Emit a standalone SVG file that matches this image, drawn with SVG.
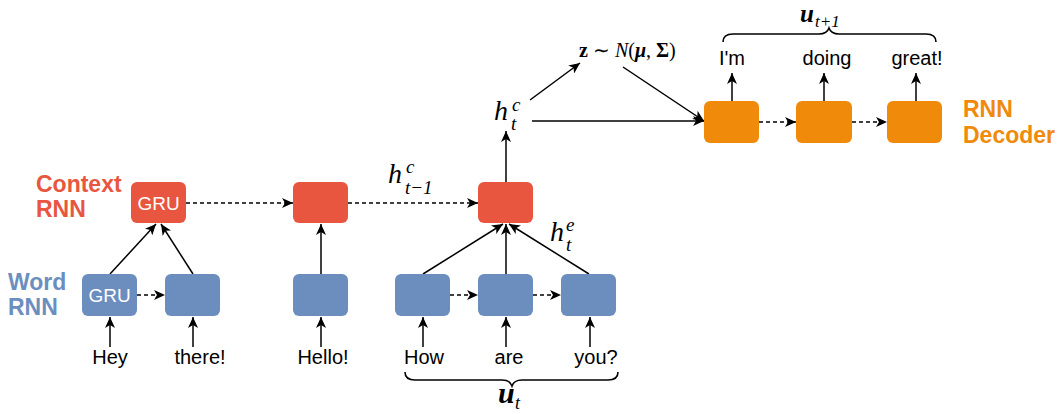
<svg xmlns="http://www.w3.org/2000/svg" width="1063" height="414" viewBox="0 0 1063 414">
<style>
.red{fill:#E8563F}
.blue{fill:#6C8EBF}
.org{fill:#F08A0A}
.word{font-family:"Liberation Sans",Arial,sans-serif;font-size:20px;fill:#000;text-anchor:middle}
.gru{font-family:"Liberation Sans",Arial,sans-serif;font-size:19px;fill:#fff;text-anchor:middle}
.lbl{font-family:"Liberation Sans",Arial,sans-serif;font-size:23px;font-weight:bold}
.m{font-family:"Liberation Serif","Times New Roman",serif;font-style:italic;fill:#000}
.ln{stroke:#000;stroke-width:1.5;fill:none;marker-end:url(#ah)}
.dl{stroke:#000;stroke-width:1.5;fill:none;stroke-dasharray:4 3;marker-end:url(#ah)}
.br{stroke:#000;stroke-width:1.6;fill:none}
</style>
<defs>
<marker id="ah" markerUnits="userSpaceOnUse" markerWidth="12" markerHeight="10" refX="11" refY="5" orient="auto" viewBox="0 0 12 10">
<path d="M0,0 L11,5 L0,10 L3,5 z" fill="#000"/>
</marker>
</defs>

<!-- side labels -->
<g id="label-context"><text class="lbl" x="36" y="192" fill="#E8563F">Context</text><text class="lbl" x="36" y="217" fill="#E8563F">RNN</text></g>
<g id="label-word"><text class="lbl" x="8" y="290" fill="#6C8EBF">Word</text><text class="lbl" x="8" y="315" fill="#6C8EBF">RNN</text></g>
<g id="label-decoder"><text class="lbl" x="963" y="117" fill="#F08A0A">RNN</text><text class="lbl" x="963" y="143" fill="#F08A0A">Decoder</text></g>

<!-- connectors -->
<g id="connectors">
<line class="ln" x1="321" y1="347" x2="321" y2="317"/>
<line class="ln" x1="110" y1="347" x2="110" y2="317"/>
<line class="ln" x1="193" y1="347" x2="193" y2="317"/>
<line class="ln" x1="423" y1="347" x2="423" y2="317"/>
<line class="ln" x1="506" y1="347" x2="506" y2="317"/>
<line class="ln" x1="590" y1="347" x2="590" y2="317"/>
<line class="ln" x1="110" y1="274" x2="156" y2="224"/>
<line class="ln" x1="193" y1="274" x2="161" y2="224"/>
<line class="dl" x1="137" y1="295" x2="165" y2="295"/>
<line class="dl" x1="186" y1="203" x2="293" y2="203"/>
<line class="ln" x1="321" y1="274" x2="321" y2="224"/>
<line class="dl" x1="348" y1="203" x2="478" y2="203"/>
<line class="ln" x1="423" y1="274" x2="503" y2="224"/>
<line class="ln" x1="506" y1="274" x2="506" y2="224"/>
<line class="ln" x1="589" y1="274" x2="509" y2="224"/>
<line class="dl" x1="450" y1="295" x2="478" y2="295"/>
<line class="dl" x1="533" y1="295" x2="561" y2="295"/>
<line class="ln" x1="506" y1="182" x2="506" y2="131"/>
<line class="ln" x1="530" y1="100" x2="580" y2="63"/>
<line class="ln" x1="532" y1="121" x2="704" y2="121"/>
<line class="ln" x1="623" y1="67" x2="704" y2="121"/>
<line class="dl" x1="759" y1="122" x2="796" y2="122"/>
<line class="dl" x1="852" y1="122" x2="887" y2="122"/>
<line class="ln" x1="732" y1="101" x2="732" y2="73"/>
<line class="ln" x1="824" y1="101" x2="824" y2="73"/>
<line class="ln" x1="916" y1="101" x2="916" y2="73"/>
<!-- braces -->
<path class="br" d="M405,372 Q405,380 415,380 L502,380 Q510,380 512,386 Q514,380 522,380 L608,380 Q618,380 618,372"/>
<path class="br" d="M723,42 Q723,34 733,34 L819,34 Q827,34 829,28 Q831,34 839,34 L926,34 Q936,34 936,42"/>
</g>

<!-- word RNN nodes -->
<g id="w-hey"><rect class="blue" x="82" y="274" width="55" height="42" rx="6"/><text class="gru" x="109.5" y="302">GRU</text></g>
<g id="w-there"><rect class="blue" x="165" y="274" width="55" height="42" rx="6"/></g>
<g id="w-hello"><rect class="blue" x="293" y="274" width="55" height="42" rx="6"/></g>
<g id="w-how"><rect class="blue" x="395" y="274" width="55" height="42" rx="6"/></g>
<g id="w-are"><rect class="blue" x="478" y="274" width="55" height="42" rx="6"/></g>
<g id="w-you"><rect class="blue" x="561" y="274" width="55" height="42" rx="6"/></g>

<!-- context RNN nodes -->
<g id="c1"><rect class="red" x="131" y="182" width="55" height="41" rx="6"/><text class="gru" x="158.5" y="210">GRU</text></g>
<g id="c2"><rect class="red" x="293" y="182" width="55" height="41" rx="6"/></g>
<g id="c3"><rect class="red" x="478" y="182" width="55" height="41" rx="6"/></g>

<!-- decoder nodes -->
<g id="d1"><rect class="org" x="704" y="101" width="55" height="42" rx="6"/></g>
<g id="d2"><rect class="org" x="796" y="101" width="56" height="42" rx="6"/></g>
<g id="d3"><rect class="org" x="887" y="101" width="55" height="42" rx="6"/></g>

<!-- words -->
<g id="words">
<text class="word" x="110" y="364">Hey</text>
<text class="word" x="200" y="364">there!</text>
<text class="word" x="323" y="364">Hello!</text>
<text class="word" x="424" y="364">How</text>
<text class="word" x="509" y="364">are</text>
<text class="word" x="596" y="364">you?</text>
<text class="word" x="732" y="65">I'm</text>
<text class="word" x="827" y="65">doing</text>
<text class="word" x="917" y="65">great!</text>
</g>

<!-- math labels -->
<g id="math">
<text class="m" x="388" y="183" font-size="28">h</text><text class="m" x="406" y="173" font-size="19">c</text><text class="m" x="405" y="194" font-size="19">t−1</text>
<text class="m" x="494" y="120" font-size="28">h</text><text class="m" x="512" y="111" font-size="19">c</text><text class="m" x="511" y="130" font-size="19">t</text>
<text class="m" x="550" y="241" font-size="28">h</text><text class="m" x="566" y="231" font-size="19">e</text><text class="m" x="566" y="251" font-size="19">t</text>
<text class="m" x="498" y="403" font-size="30" font-weight="bold">u</text><text class="m" x="515" y="409" font-size="18">t</text>
<text class="m" x="800" y="22" font-size="25" font-weight="bold">u</text><text class="m" x="815" y="27" font-size="17">t+1</text>
<text x="579" y="57" font-family="'Liberation Serif','Times New Roman',serif" font-size="20" fill="#000"><tspan font-weight="bold">z</tspan> ∼ <tspan font-style="italic">N</tspan>(<tspan font-weight="bold" font-style="italic">μ</tspan>, <tspan font-weight="bold">Σ</tspan>)</text>
</g>
</svg>
